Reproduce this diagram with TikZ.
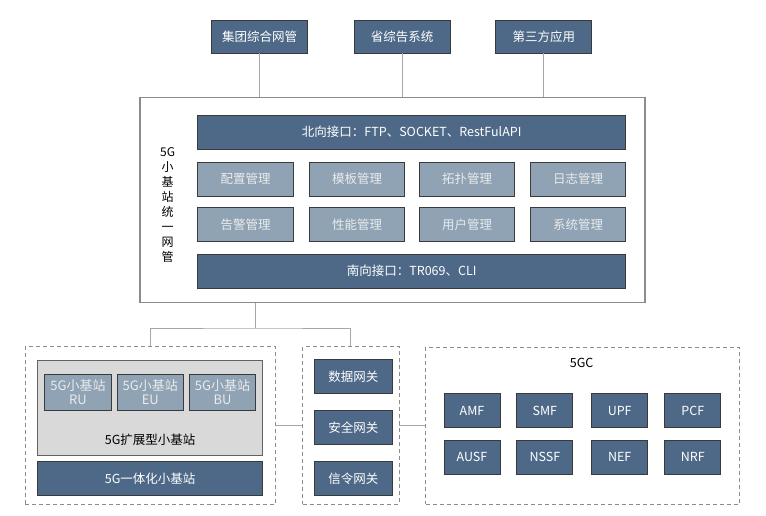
\documentclass[tikz,border=0pt]{standalone}
\usepackage{fontspec}
\setmainfont{Noto Sans CJK SC}
\definecolor{dkfill}{HTML}{4E6987}
\definecolor{ltfill}{HTML}{8FA3B5}
\definecolor{gyfill}{HTML}{D9D9D9}
\definecolor{edge}{HTML}{3A3A3A}
\definecolor{wire}{HTML}{A6A6A6}
\definecolor{frame}{HTML}{8C8C8C}
\tikzset{
  basebox/.style={draw=edge, line width=0.8pt, inner sep=0pt, align=center,
    font=\fontsize{12.5}{14}\selectfont},
  dk/.style={basebox, fill=dkfill, text=white},
  lt/.style={basebox, fill=ltfill, text=white!92!black},
  gy/.style={draw=edge!80, line width=0.9pt, fill=gyfill, inner sep=0pt},
  dbox/.style={draw=frame, dash pattern=on 4pt off 3pt, line width=0.8pt, inner sep=0pt},
  wline/.style={draw=wire, line width=1pt},
  lbl/.style={text=black, font=\fontsize{12.5}{14}\selectfont, inner sep=0pt},
  unitbox/.style={lt, minimum height=36.7, font=\fontsize{13}{14}\selectfont},
}
\begin{document}
\begin{tikzpicture}[x=1pt,y=-1pt]
\useasboundingbox[fill=white] (0,0) rectangle (766,516);
% top systems
\node[dk, minimum width=96, minimum height=33] (b1) at (259.7,36.5) {集团综合网管};
\node[dk, minimum width=96, minimum height=33] (b2) at (402,36.5) {省综告系统};
\node[dk, minimum width=96, minimum height=33] (b3) at (543.8,36.5) {第三方应用};
% main box
\node[draw=frame, line width=1.1pt, minimum width=505, minimum height=205.4, inner sep=0pt] (main) at (392.5,200) {};
\draw[wline] (b1.south) -- (b1.south |- main.north);
\draw[wline] (b2.south) -- (b2.south |- main.north);
\draw[wline] (b3.south) -- (b3.south |- main.north);
\node[dk, minimum width=428, minimum height=34] (nb) at (411.7,132) {北向接口：FTP、SOCKET、RestFulAPI};
\node[lt, minimum width=95.6, minimum height=34] (m1) at (245.5,179) {配置管理};
\node[lt, minimum width=95.6, minimum height=34] (m2) at (357,179) {模板管理};
\node[lt, minimum width=95.6, minimum height=34] (m3) at (467,179) {拓扑管理};
\node[lt, minimum width=95.6, minimum height=34] (m4) at (578,179) {日志管理};
\node[lt, minimum width=95.6, minimum height=34] (m5) at (245.5,224.7) {告警管理};
\node[lt, minimum width=95.6, minimum height=34] (m6) at (357,224.7) {性能管理};
\node[lt, minimum width=95.6, minimum height=34] (m7) at (467,224.7) {用户管理};
\node[lt, minimum width=95.6, minimum height=34] (m8) at (578,224.7) {系统管理};
\node[dk, minimum width=428, minimum height=34] (sb) at (411.7,271) {南向接口：TR069、CLI};
\node[lbl, align=center, font=\fontsize{12}{15}\selectfont] (side) at (167.7,205.5) {5G\\小\\基\\站\\统\\一\\网\\管};
% lower groups
\node[dbox, minimum width=250.7, minimum height=157.3] (left) at (150.35,425.35) {};
\node[dbox, minimum width=96.3, minimum height=157.3] (mid) at (350.85,425.35) {};
\node[dbox, minimum width=313.6, minimum height=156.7] (core) at (582.5,425.65) {};
\coordinate (j) at (255,328);
\draw[wline] (main.south -| j) -- (j);
\draw[wline] (left.north) |- (j) -| (mid.north);
\draw[wline] (left.east |- mid.west) -- (mid.west);
\draw[wline] (mid.east) -- (core.west |- mid.east);
% left group
\node[gy, minimum width=225, minimum height=94.3] (ext) at (150.2,407.85) {};
\node[unitbox, minimum width=67] (ru) at (78,392.35) {5G小基站\\RU};
\node[unitbox, minimum width=66] (eu) at (150.3,392.35) {5G小基站\\EU};
\node[unitbox, minimum width=66] (bu) at (222.5,392.35) {5G小基站\\BU};
\node[lbl] (extl) at (150.2,440) {5G扩展型小基站};
\node[dk, minimum width=225, minimum height=33.3] (int) at (150.2,478.35) {5G一体化小基站};
% gateways
\node[dk, minimum width=78, minimum height=34] (g1) at (353.3,376.3) {数据网关};
\node[dk, minimum width=78, minimum height=34] (g2) at (353.3,427.5) {安全网关};
\node[dk, minimum width=78, minimum height=34] (g3) at (353.3,478.35) {信令网关};
% 5GC
\node[lbl] (cl) at (581.7,363.3) {5GC};
\node[dk, minimum width=56, minimum height=34] (n1) at (472,410.85) {AMF};
\node[dk, minimum width=56, minimum height=34] (n2) at (544.85,410.85) {SMF};
\node[dk, minimum width=56, minimum height=34] (n3) at (619.7,410.85) {UPF};
\node[dk, minimum width=56, minimum height=34] (n4) at (692.85,410.85) {PCF};
\node[dk, minimum width=56, minimum height=34] (n5) at (472,457) {AUSF};
\node[dk, minimum width=56, minimum height=34] (n6) at (544.85,457) {NSSF};
\node[dk, minimum width=56, minimum height=34] (n7) at (619.7,457) {NEF};
\node[dk, minimum width=56, minimum height=34] (n8) at (692.85,457) {NRF};
\end{tikzpicture}
\end{document}
